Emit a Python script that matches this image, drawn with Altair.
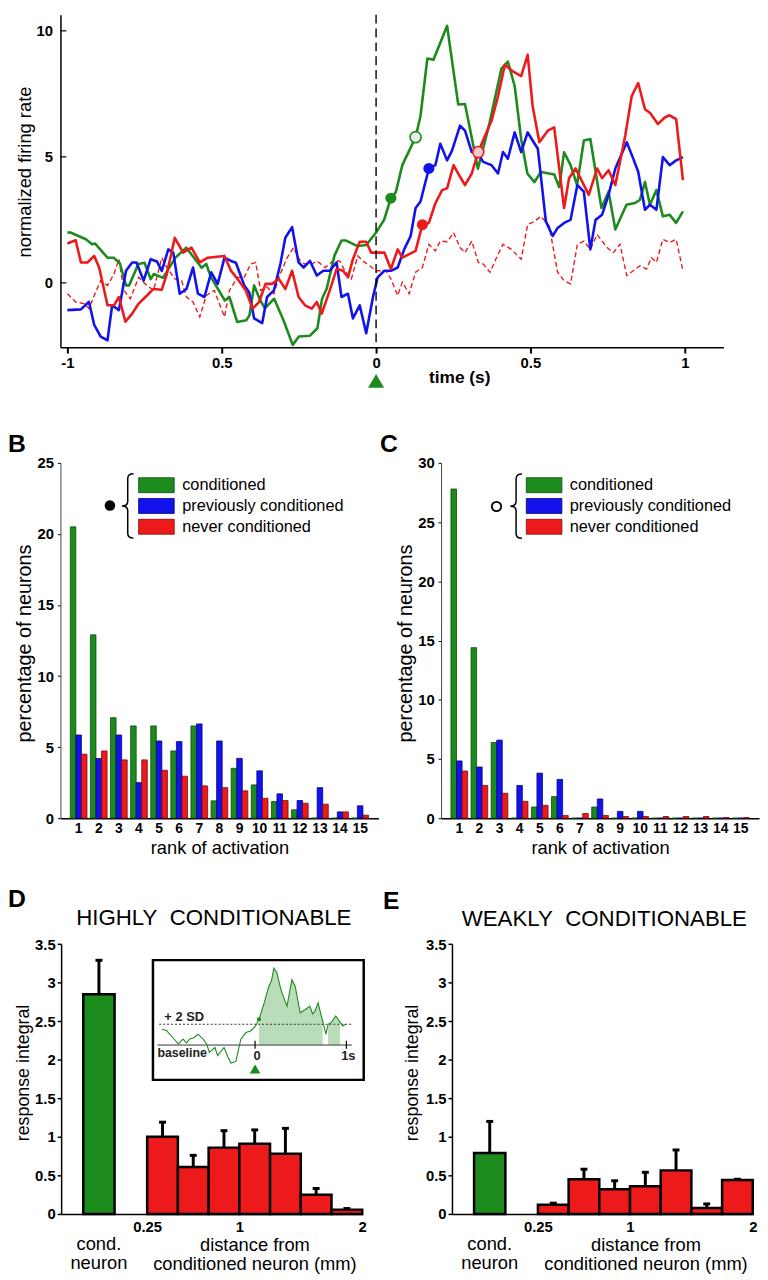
import json
import altair as alt
import pandas as pd

FONT = "Liberation Sans"
GREEN, BLUE, RED = "#1c8a1c", "#1212ec", "#ec1a1a"
GREEN_D, BLUE_D, RED_D = "#0c4f0c", "#06067c", "#7c0c0c"
W, H, M = 760, 1272, 8


def P(v):
    return v - M


# ---------------- data ----------------
series_names = ["conditioned", "previously conditioned", "never conditioned"]

green_trace = [(-1.0, 2.0), (-0.99, 2.0), (-0.94, 1.73), (-0.92, 1.53), (-0.91, 1.56), (-0.87, 1.0), (-0.85, 1.0),
               (-0.83, 0.78), (-0.81, -0.1), (-0.8, -0.1), (-0.77, 0.75), (-0.75, 0.8), (-0.73, 0.15), (-0.72, 0.35),
               (-0.69, 0.2), (-0.65, 1.0), (-0.615, 1.4), (-0.565, 0.6), (-0.55, 0.75), (-0.535, 0.23), (-0.49, -0.7),
               (-0.475, -0.56), (-0.45, -1.55), (-0.42, -1.48), (-0.41, -1.28), (-0.395, -0.1), (-0.375, -0.7),
               (-0.36, -1.0), (-0.33, -0.63), (-0.3, -1.48), (-0.27, -2.46), (-0.25, -2.13), (-0.215, -2.1),
               (-0.19, -1.8), (-0.175, -0.63), (-0.16, -0.23), (-0.135, 1.07), (-0.112, 1.68), (-0.097, 1.68),
               (-0.06, 1.46), (-0.032, 1.5), (0.0, 2.0), (0.026, 2.5), (0.048, 3.36), (0.064, 3.6), (0.085, 4.67),
               (0.128, 5.78), (0.144, 6.63), (0.166, 8.9), (0.186, 8.85), (0.23, 10.2), (0.266, 7.08), (0.288, 7.1),
               (0.33, 4.53), (0.368, 6.37), (0.406, 8.5), (0.427, 8.78), (0.449, 7.8), (0.47, 5.7), (0.49, 4.34),
               (0.513, 4.0), (0.534, 4.4), (0.577, 4.3), (0.593, 3.8), (0.609, 5.18), (0.63, 4.67), (0.651, 3.88),
               (0.673, 5.65), (0.694, 5.71), (0.73, 2.97), (0.753, 3.62), (0.775, 2.12), (0.811, 3.1), (0.839, 3.17),
               (0.855, 3.3), (0.871, 4.0), (0.887, 3.1), (0.908, 3.68), (0.929, 2.64), (0.951, 2.7), (0.972, 2.38),
               (0.994, 2.84)]

blue_trace = [(-1.0, -1.08), (-0.956, -1.05), (-0.93, -0.75), (-0.913, -1.67), (-0.892, -2.13), (-0.87, -2.28),
              (-0.855, -0.89), (-0.833, -1.08), (-0.81, 0.48), (-0.79, 0.81), (-0.776, 0.81), (-0.753, 0.09),
              (-0.73, 0.94), (-0.71, 0.85), (-0.694, 0.48), (-0.673, 1.33), (-0.657, 1.2), (-0.636, -0.43),
              (-0.614, -0.24), (-0.593, 0.61), (-0.577, -0.43), (-0.556, -0.56), (-0.534, 0.42), (-0.513, -0.04),
              (-0.491, 1.0), (-0.47, 0.87), (-0.454, 0.8), (-0.427, -0.1), (-0.411, -0.37), (-0.395, -1.41),
              (-0.369, -1.6), (-0.353, -0.56), (-0.331, -0.3), (-0.31, 0.75), (-0.294, 1.79), (-0.272, 2.21),
              (-0.251, 0.81), (-0.235, 0.61), (-0.214, 0.87), (-0.192, 0.29), (-0.171, 0.48), (-0.15, 0.48),
              (-0.128, 0.81), (-0.112, -0.56), (-0.091, -0.43), (-0.075, -1.41), (-0.053, -0.89), (-0.032, -2.0),
              (-0.01, -0.56), (0.005, 0.22), (0.027, 0.48), (0.048, 0.48), (0.07, 0.61), (0.091, 1.33),
              (0.112, 1.86), (0.128, 2.97), (0.144, 3.23), (0.171, 4.54), (0.192, 4.67), (0.208, 5.52), (0.23, 4.86),
              (0.246, 5.25), (0.272, 6.24), (0.288, 6.04), (0.31, 5.19), (0.331, 5.12), (0.347, 4.8), (0.374, 4.67),
              (0.395, 4.34), (0.411, 5.19), (0.427, 4.93), (0.449, 5.97), (0.47, 5.19), (0.491, 5.97), (0.507, 5.65),
              (0.524, 5.32), (0.55, 2.44), (0.572, 1.86), (0.588, 2.18), (0.609, 2.38), (0.63, 2.5), (0.652, 3.88),
              (0.673, 3.62), (0.694, 1.33), (0.711, 2.5), (0.732, 2.7), (0.753, 3.49), (0.775, 4.54), (0.812, 5.58),
              (0.833, 4.93), (0.849, 4.41), (0.871, 2.9), (0.887, 3.1), (0.908, 2.9), (0.929, 4.99), (0.951, 4.67),
              (0.972, 4.86), (0.994, 4.99)]

red_trace = [(-1.0, 1.56), (-0.973, 1.69), (-0.956, 0.81), (-0.935, 0.81), (-0.913, 1.07), (-0.897, 0.61),
             (-0.87, -0.89), (-0.849, -0.89), (-0.833, -0.56), (-0.812, -1.54), (-0.79, -1.22), (-0.769, -0.82),
             (-0.742, -0.5), (-0.721, -0.24), (-0.694, -0.27), (-0.678, 0.35), (-0.652, 1.79), (-0.625, 1.2),
             (-0.598, 1.4), (-0.571, 0.81), (-0.545, 1.0), (-0.491, 1.07), (-0.47, 0.48), (-0.449, 0.16),
             (-0.422, -0.3), (-0.4, -1.02), (-0.379, -0.76), (-0.358, -0.04), (-0.337, -0.04), (-0.315, 0.16),
             (-0.294, -0.24), (-0.272, 0.48), (-0.251, -0.56), (-0.23, -0.89), (-0.208, -1.02), (-0.192, -0.76),
             (-0.176, -1.22), (-0.15, -0.3), (-0.128, 0.55), (-0.107, 0.48), (-0.091, 0.22), (-0.075, 0.94),
             (-0.053, 1.63), (-0.032, 1.63), (-0.016, 1.2), (0.027, 1.2), (0.048, 0.55), (0.07, 1.33), (0.085, 1.0),
             (0.128, 1.27), (0.15, 2.31), (0.171, 2.38), (0.192, 3.16), (0.214, 3.68), (0.23, 3.75), (0.251, 4.67),
             (0.272, 4.21), (0.288, 3.88), (0.31, 4.34), (0.331, 5.19), (0.353, 5.84), (0.374, 6.43), (0.395, 7.41),
             (0.417, 8.65), (0.443, 8.39), (0.47, 8.2), (0.491, 9.05), (0.507, 7.02), (0.529, 5.58), (0.556, 6.04),
             (0.577, 6.17), (0.609, 2.97), (0.625, 4.15), (0.646, 4.54), (0.668, 4.01), (0.689, 3.49), (0.716, 4.54),
             (0.732, 4.15), (0.753, 4.47), (0.775, 3.88), (0.807, 5.84), (0.828, 7.41), (0.849, 7.93), (0.871, 6.89),
             (0.887, 6.75), (0.913, 6.3), (0.935, 6.56), (0.951, 6.65), (0.972, 6.5), (0.994, 4.08)]

red_ctrl_trace = [(-1.0, -0.43), (-0.973, -0.76), (-0.946, -0.82), (-0.93, -1.02), (-0.913, -0.5), (-0.892, 0.09),
                  (-0.87, -0.1), (-0.849, 0.35), (-0.833, 0.94), (-0.817, -0.3), (-0.796, -0.63), (-0.769, 0.22),
                  (-0.748, -0.04), (-0.721, -0.3), (-0.694, 1.0), (-0.678, 0.61), (-0.652, 0.16), (-0.63, 0.09),
                  (-0.614, -0.56), (-0.593, -0.76), (-0.571, -1.35), (-0.55, -0.5), (-0.524, -0.3), (-0.491, -1.35),
                  (-0.475, -0.3), (-0.449, 0.22), (-0.427, 0.22), (-0.406, 0.75), (-0.39, 0.81), (-0.374, -0.3),
                  (-0.353, -0.17), (-0.331, -0.43), (-0.315, 0.22), (-0.288, 1.0), (-0.267, 1.4), (-0.246, 0.87),
                  (-0.23, 0.75), (-0.208, 0.75), (-0.192, 0.87), (-0.165, 0.61), (-0.139, 0.87), (-0.118, 0.87),
                  (-0.101, 0.48), (-0.08, 0.16), (-0.059, 1.07), (-0.043, 0.87), (-0.021, 0.68), (0.0, 0.48),
                  (0.032, 0.48), (0.048, 0.16), (0.07, -0.5), (0.085, 0.03), (0.107, -0.43), (0.128, 0.42),
                  (0.15, 0.61), (0.171, 1.53), (0.192, 1.27), (0.208, 1.66), (0.23, 1.63), (0.251, 1.99), (0.272, 1.4),
                  (0.288, 1.2), (0.31, 1.66), (0.331, 0.81), (0.347, 0.75), (0.369, 0.42), (0.39, 1.0), (0.411, 1.53),
                  (0.438, 1.33), (0.47, 0.94), (0.491, 2.31), (0.513, 2.44), (0.534, 2.64), (0.561, 2.25),
                  (0.588, 0.42), (0.609, 0.09), (0.63, -0.04), (0.652, 1.53), (0.673, 1.66), (0.694, 1.33),
                  (0.716, 1.92), (0.748, 1.4), (0.769, 1.2), (0.79, 1.53), (0.812, 0.29), (0.833, 0.48), (0.855, 0.68),
                  (0.876, 0.55), (0.892, 1.0), (0.908, 0.81), (0.929, 1.73), (0.951, 1.6), (0.972, 1.73),
                  (0.994, 0.48)]

stim_time = [0.0]
marker_series = ["conditioned", "conditioned", "previously conditioned", "never conditioned", "never conditioned"]
marker_time = [0.048, 0.128, 0.171, 0.15, 0.331]
marker_value = [3.36, 5.78, 4.54, 2.31, 5.19]
marker_kind = ["onset", "half", "onset", "onset", "half"]

a_xtick_vals = [-1, -0.5, 0, 0.5, 1]
a_xtick_labels = ["-1", "0.5", "0", "0.5", "1"]
a_ytick_vals = [0, 5, 10]

ranks = list(range(1, 16))
B_cond = [20.5, 12.9, 7.07, 6.49, 6.49, 4.73, 6.49, 1.22, 3.51, 2.34, 1.17, 0.59, 0, 0, 0]
B_prev = [5.85, 4.2, 5.85, 2.5, 5.43, 5.39, 6.63, 5.43, 4.21, 3.33, 1.71, 1.24, 2.15, 0.44, 0.87]
B_never = [4.5, 4.73, 4.1, 4.1, 3.37, 2.95, 2.27, 2.15, 1.92, 1.4, 1.24, 1.05, 0.98, 0.44, 0.21]
C_cond = [27.8, 14.4, 6.39, 0, 0.94, 1.82, 0, 0.94, 0, 0, 0, 0, 0, 0, 0]
C_prev = [4.83, 4.32, 6.59, 2.76, 3.8, 3.27, 0, 1.62, 0.57, 0.57, 0, 0, 0, 0, 0]
C_never = [3.98, 2.76, 2.1, 1.42, 1.08, 0.23, 0.4, 0.23, 0.14, 0.14, 0.14, 0.14, 0.14, 0.05, 0.05]

dist_edges = [0.25, 0.5, 0.75, 1.0, 1.25, 1.5, 1.75, 2.0]
dist_tick_vals = [0.25, 1, 2]
dist_tick_labels = ["0.25", "1", "2"]
resp_tick_vals = [0, 0.5, 1, 1.5, 2, 2.5, 3, 3.5]
D_red_mean = [1.0, 0.61, 0.86, 0.91, 0.78, 0.25, 0.056]
D_red_sem = [0.19, 0.15, 0.22, 0.18, 0.33, 0.08, 0.014]
D_cond_mean = [2.85]
D_cond_sem = [0.44]
E_red_mean = [0.12, 0.45, 0.32, 0.36, 0.565, 0.077, 0.44]
E_red_sem = [0.02, 0.13, 0.11, 0.18, 0.265, 0.053, 0.01]
E_cond_mean = [0.79]
E_cond_sem = [0.41]
cond_label = ["cond.", "neuron"]

inset_trace = [(-1.02, 0.76), (-0.97, 0.7), (-0.95, 0.6), (-0.9, 0.35), (-0.84, 0.05), (-0.79, 0.29), (-0.75, 0.1),
               (-0.715, 0.29), (-0.67, 0.35), (-0.625, 0.52), (-0.57, 0.29), (-0.53, 0.05), (-0.5, -0.35),
               (-0.44, -0.12), (-0.41, -0.51), (-0.34, -0.12), (-0.3, -0.55), (-0.264, -0.87), (-0.21, -0.79),
               (-0.156, 0.28), (-0.1, 0.6), (-0.048, 0.68), (0.007, 0.92), (0.043, 1.24), (0.1, 2.03), (0.15, 2.82),
               (0.18, 3.1), (0.206, 3.7), (0.24, 3.47), (0.27, 2.9), (0.296, 2.5), (0.35, 1.87), (0.38, 2.6),
               (0.404, 3.14), (0.44, 2.82), (0.47, 2.1), (0.494, 1.55), (0.55, 1.71), (0.6, 1.87), (0.63, 1.5),
               (0.656, 1.63), (0.69, 2.03), (0.72, 1.5), (0.74, 1.16), (0.776, 0.52), (0.8, 1.0), (0.838, 1.1),
               (0.884, 1.4), (0.93, 1.1), (0.96, 0.92), (0.99, 1.0)]
inset_onset = [(0.043, 1.24)]
inset_threshold = 1.0
inset_tick_vals = [0, 1]
inset_tick_labels = ["0", "1s"]

RECT_PATH = "M-1,-0.42H1V0.42H-1Z"
BRACE_PATH = ("M0.18,-1 C0.04,-1 0,-0.95 0,-0.85 L0,-0.15 C0,-0.05 -0.06,0 -0.18,0 "
              "C-0.06,0 0,0.05 0,0.15 L0,0.85 C0,0.95 0.04,1 0.18,1")

layers = []


def lookup_expr(vals, labels):
    return f"{json.dumps(labels)}[indexof({json.dumps(vals)}, datum.value)]"


def note(text, x, y, **kw):
    base = dict(font=FONT, color="black")
    base.update(kw)
    return alt.Chart(pd.DataFrame({"t": [text]})).mark_text(**base).encode(
        text="t:N", x=alt.value(P(x)), y=alt.value(P(y)))


def trace_df(pts, name):
    return pd.DataFrame({"t": [p[0] for p in pts], "v": [p[1] for p in pts], "series": name})


def ax(field, scale):
    return alt.X(field, scale=scale, axis=None)


def ay(field, scale):
    return alt.Y(field, scale=scale, axis=None)


# ---------------- panel A ----------------
a_x = alt.Scale(domain=[-1.0224, 1.125], range=[P(61), P(731)], nice=False, zero=False)
a_y = alt.Scale(domain=[-2.55, 10.64], range=[P(344), P(8)], nice=False, zero=False)
a_color = alt.Scale(domain=series_names, range=[GREEN, BLUE, RED])

a_xaxis = alt.Axis(orient="bottom", offset=P(344) - H, values=a_xtick_vals,
                   labelExpr=lookup_expr(a_xtick_vals, a_xtick_labels),
                   tickSize=6, tickWidth=2, domainColor="black", domainWidth=1.5, labelFontSize=15,
                   labelFontWeight="bold", labelPadding=3, labelFlush=False, title="time (s)", titleFontSize=17.5,
                   titleFontWeight="bold", titleX=P(464), titleY=31, titleBaseline="middle", titleAlign="center")
a_yaxis = alt.Axis(orient="left", offset=-P(61), values=a_ytick_vals, tickSize=0, domainColor="black",
                   domainWidth=1.5, labelFontSize=15, labelFontWeight="bold", labelPadding=8, labelFlush=False,
                   title="normalized firing rate", titleFontSize=18.5, titleFontWeight="normal", titleAngle=270,
                   titleX=-36, titleY=P(166.5), titleBaseline="middle", titleAlign="center")

A_lines = pd.concat([trace_df(green_trace, series_names[0]), trace_df(blue_trace, series_names[1]),
                     trace_df(red_trace, series_names[2])], ignore_index=True)
A_ctrl = trace_df(red_ctrl_trace, "never conditioned (control)")
stim_df = pd.DataFrame({"t": stim_time})
markers = pd.DataFrame({"series": marker_series, "t": marker_time, "v": marker_value, "kind": marker_kind})

layers.append(alt.Chart(A_ctrl).mark_line(color=RED, strokeWidth=1.4, strokeDash=[5, 3], opacity=1).encode(
    x=ax("t:Q", a_x), y=ay("v:Q", a_y)))
layers.append(alt.Chart(A_lines).mark_line(strokeWidth=2.6, opacity=1, strokeJoin="round").encode(
    x=alt.X("t:Q", scale=a_x, axis=a_xaxis), y=alt.Y("v:Q", scale=a_y, axis=a_yaxis),
    color=alt.Color("series:N", scale=a_color, legend=None)))
layers.append(alt.Chart(stim_df).mark_rule(color="black", strokeWidth=1.4, strokeDash=[9, 5]).encode(
    x=ax("t:Q", a_x), y=alt.value(0), y2=alt.value(P(344))))
layers.append(alt.Chart(pd.DataFrame({"v": a_ytick_vals})).mark_rule(color="black", strokeWidth=1.2).encode(
    y=ay("v:Q", a_y), x=alt.value(P(61)), x2=alt.value(P(67))))
layers.append(alt.Chart(markers).transform_filter(alt.datum.kind == "onset").mark_point(
    shape="circle", filled=True, size=125, opacity=1).encode(
    x=ax("t:Q", a_x), y=ay("v:Q", a_y), color=alt.Color("series:N", scale=a_color, legend=None)))
layers.append(alt.Chart(markers).transform_filter(
    (alt.datum.kind == "half") & (alt.datum.series == series_names[0])).mark_point(
    shape="circle", filled=True, size=125, opacity=1, fill="#ececec", stroke=GREEN, strokeWidth=1.6).encode(
    x=ax("t:Q", a_x), y=ay("v:Q", a_y)))
layers.append(alt.Chart(markers).transform_filter(
    (alt.datum.kind == "half") & (alt.datum.series == series_names[2])).mark_point(
    shape="circle", filled=True, size=125, opacity=1, fill="#f0cccc", stroke=RED, strokeWidth=1.6).encode(
    x=ax("t:Q", a_x), y=ay("v:Q", a_y)))
layers.append(alt.Chart(stim_df).mark_point(shape="triangle-up", filled=True, size=260, opacity=1,
                                            color=GREEN).encode(x=ax("t:Q", a_x), y=alt.value(P(378))))


# ---------------- panels B and C ----------------
def bar_df(cond, prev, never):
    rows = []
    for name, vals in zip(series_names, [cond, prev, never]):
        for r, v in zip(ranks, vals):
            rows.append({"rank": r, "series": name, "pct": v})
    return pd.DataFrame(rows)


def hist_panel(df, x0, x1, ymax, yticks):
    xs = alt.Scale(domain=ranks, range=[P(x0), P(x1)], paddingInner=0.17, paddingOuter=0.49)
    ys = alt.Scale(domain=[0, ymax], range=[P(820), P(461)], nice=False, zero=True)
    return alt.Chart(df).mark_bar(strokeWidth=0.8, opacity=1).encode(
        x=alt.X("rank:O", scale=xs, axis=alt.Axis(
            orient="bottom", offset=P(820) - H, labelAngle=0, tickSize=0, domainColor="black", domainWidth=1.5,
            labelFontSize=14, labelFontWeight="bold", labelPadding=4, title="rank of activation",
            titleFontSize=18.5, titleFontWeight="normal", titleY=30, titleBaseline="middle")),
        xOffset=alt.XOffset("series:N", sort=series_names,
                            scale=alt.Scale(domain=series_names, paddingInner=0, paddingOuter=0)),
        y=alt.Y("pct:Q", scale=ys, axis=alt.Axis(
            orient="left", offset=-P(x0), values=yticks, tickSize=3, domainColor="#444", domainWidth=1,
            labelFontSize=15, labelFontWeight="bold", labelPadding=4, labelFlush=False,
            title="percentage of neurons", titleFontSize=20, titleFontWeight="normal", titleAngle=270,
            titleX=-36, titleY=P(643), titleBaseline="middle", titleAlign="center")),
        color=alt.Color("series:N", scale=alt.Scale(domain=series_names, range=[GREEN, BLUE, RED]), legend=None),
        stroke=alt.Stroke("series:N", scale=alt.Scale(domain=series_names, range=[GREEN_D, BLUE_D, RED_D]),
                          legend=None),
    )


def legend_layers(sym_x, text_x):
    ld = pd.DataFrame({"series": series_names})
    ly = alt.Scale(type="point", domain=series_names, range=[P(483.5), P(525.5)], padding=0)
    sym = alt.Chart(ld).mark_point(shape=RECT_PATH, filled=True, size=1296, strokeWidth=0.8, opacity=1).encode(
        x=alt.value(P(sym_x)), y=alt.Y("series:N", scale=ly, axis=None),
        color=alt.Color("series:N", scale=alt.Scale(domain=series_names, range=[GREEN, BLUE, RED]), legend=None),
        stroke=alt.Stroke("series:N", scale=alt.Scale(domain=series_names, range=[GREEN_D, BLUE_D, RED_D]),
                          legend=None))
    txt = alt.Chart(ld).mark_text(align="left", baseline="middle", font=FONT, fontSize=16.5, color="black").encode(
        x=alt.value(P(text_x)), y=alt.Y("series:N", scale=ly, axis=None), text="series:N")
    return [sym, txt]


def brace(x, y):
    return alt.Chart(pd.DataFrame({"k": [0]})).mark_point(
        shape=BRACE_PATH, size=4225, filled=False, stroke="black", strokeWidth=1.5, opacity=1).encode(
        x=alt.value(P(x)), y=alt.value(P(y)))


layers.append(hist_panel(bar_df(B_cond, B_prev, B_never), 61, 382.3, 25, [0, 5, 10, 15, 20, 25]))
layers += legend_layers(158, 184)
layers.append(brace(129, 504.5))
layers.append(alt.Chart(pd.DataFrame({"k": ["onset"]})).mark_point(
    shape="circle", filled=True, color="black", size=113, opacity=1).encode(x=alt.value(P(111)), y=alt.value(P(504))))
layers.append(hist_panel(bar_df(C_cond, C_prev, C_never), 445.7, 767, 30, [0, 5, 10, 15, 20, 25, 30]))
layers += legend_layers(549.8, 575.7)
layers.append(brace(521.5, 504.7))
layers.append(alt.Chart(pd.DataFrame({"k": ["half"]})).mark_point(
    shape="circle", filled=False, color="black", strokeWidth=1.8, size=90, opacity=1).encode(
    x=alt.value(P(501.7)), y=alt.value(P(505))))


# ---------------- panels D and E ----------------
def resp_layers(x0, x1, red_mean, red_sem, cond_mean, cond_sem, ytitle_x, xtitle_x):
    xs = alt.Scale(domain=[-0.45, 2.0], range=[P(x0), P(x1)], nice=False, zero=False)
    ys = alt.Scale(domain=[0, 3.5], range=[P(1220), P(947.3)], nice=False, zero=True)
    red = pd.DataFrame({"lo": dist_edges[:-1], "hi": dist_edges[1:], "mean": red_mean, "sem": red_sem})
    red["mid"] = (red["lo"] + red["hi"]) / 2
    red["top"] = red["mean"] + red["sem"]
    red["zero"] = 0.0
    cond = pd.DataFrame({"label": ["\n".join(cond_label)], "mean": cond_mean, "sem": cond_sem})
    cond["top"] = cond["mean"] + cond["sem"]
    cond["zero"] = 0.0
    xaxis = alt.Axis(orient="bottom", offset=P(1220) - H, values=dist_tick_vals,
                     labelExpr=lookup_expr(dist_tick_vals, dist_tick_labels), tickSize=0,
                     domainColor="black", domainWidth=1.5, labelFontSize=15, labelFontWeight="bold",
                     labelPadding=6, labelFlush=False, title=["distance from", "conditioned neuron (mm)"],
                     titleFontSize=18.5, titleFontWeight="normal", titleX=P(xtitle_x), titleY=21.5,
                     titleBaseline="top", titleAlign="center", titleLineHeight=19.5)
    yaxis = alt.Axis(orient="left", offset=-P(x0), values=resp_tick_vals, format="~g",
                     tickSize=4, tickWidth=1.5, domainColor="black", domainWidth=1.5, labelFontSize=15,
                     labelFontWeight="bold", labelPadding=2, labelFlush=False, title="response integral",
                     titleFontSize=18, titleFontWeight="normal", titleAngle=270, titleX=ytitle_x,
                     titleY=P(1077), titleBaseline="middle", titleAlign="center")
    out = []
    out.append(alt.Chart(red).mark_rect(fill=RED, stroke="black", strokeWidth=2.5, opacity=1).encode(
        x=alt.X("lo:Q", scale=xs, axis=xaxis), x2="hi:Q",
        y=alt.Y("mean:Q", scale=ys, axis=yaxis), y2="zero:Q"))
    out.append(alt.Chart(red).mark_rule(color="black", strokeWidth=3).encode(
        x=ax("mid:Q", xs), y=ay("mean:Q", ys), y2="top:Q"))
    out.append(alt.Chart(red).mark_tick(orient="horizontal", color="black", size=7, thickness=3, opacity=1).encode(
        x=ax("mid:Q", xs), y=ay("top:Q", ys)))
    out.append(alt.Chart(cond).mark_rect(fill=GREEN, stroke="black", strokeWidth=2.5, opacity=1).encode(
        x=alt.XDatum(-0.27, scale=xs, axis=None), x2=alt.X2Datum(-0.015),
        y=ay("mean:Q", ys), y2="zero:Q"))
    out.append(alt.Chart(cond).mark_rule(color="black", strokeWidth=3).encode(
        x=alt.XDatum(-0.1425, scale=xs, axis=None), y=ay("mean:Q", ys), y2="top:Q"))
    out.append(alt.Chart(cond).mark_tick(orient="horizontal", color="black", size=7, thickness=3, opacity=1).encode(
        x=alt.XDatum(-0.1425, scale=xs, axis=None), y=ay("top:Q", ys)))
    out.append(alt.Chart(cond).mark_text(font=FONT, fontSize=18.5, color="black", align="center", baseline="top",
                                         lineBreak="\n", lineHeight=19.5).encode(
        x=alt.XDatum(-0.1425, scale=xs, axis=None), y=alt.value(P(1241.5)), text="label:N"))
    return out


layers += resp_layers(61.7, 366, D_red_mean, D_red_sem, D_cond_mean, D_cond_sem, -37.7, 257)
layers += resp_layers(456.7, 760.7, E_red_mean, E_red_sem, E_cond_mean, E_cond_sem, -39.7, 652.3)

# ---------------- inset ----------------
in_x = alt.Scale(domain=[-1.1, 1.1], range=[P(156.2), P(359.2)], nice=False, zero=False)
in_y = alt.Scale(domain=[-1, 4], range=[P(1070.3), P(965.3)], nice=False, zero=False)
in_df = trace_df(inset_trace, "conditioned")
above = in_df["v"] >= inset_threshold
in_df["seg"] = (above != above.shift()).cumsum()
in_df["zero"] = 0.0
area_df = in_df[above]
onset_df = pd.DataFrame({"t": [p[0] for p in inset_onset], "v": [p[1] for p in inset_onset]})
ticks_df = pd.DataFrame({"t": inset_tick_vals, "label": inset_tick_labels})
guides_df = pd.DataFrame({"name": ["baseline", "+ 2 SD"], "lo": [-1.07, -1.05], "hi": [1.06, 1.06],
                          "level": [0.0, inset_threshold]})

layers.append(alt.Chart(pd.DataFrame({"k": [0]})).mark_rect(fill="white", stroke="black", strokeWidth=2.5,
                                                             opacity=1).encode(
    x=alt.value(P(154.5)), x2=alt.value(P(367.5)), y=alt.value(P(963.5)), y2=alt.value(P(1084.5))))
layers.append(alt.Chart(area_df).mark_area(color="#b9ddb9", opacity=1).encode(
    x=ax("t:Q", in_x), y=ay("v:Q", in_y), y2="zero:Q", detail="seg:N"))
layers.append(alt.Chart(guides_df).transform_filter(alt.datum.name == "baseline").mark_rule(
    color="#333333", strokeWidth=1).encode(x=ax("lo:Q", in_x), x2="hi:Q", y=ay("level:Q", in_y)))
layers.append(alt.Chart(guides_df).transform_filter(alt.datum.name == "+ 2 SD").mark_rule(
    color="#333333", strokeWidth=1, strokeDash=[2, 2]).encode(x=ax("lo:Q", in_x), x2="hi:Q", y=ay("level:Q", in_y)))
layers.append(alt.Chart(in_df).mark_line(color=GREEN, strokeWidth=1.1, opacity=1).encode(
    x=ax("t:Q", in_x), y=ay("v:Q", in_y)))
layers.append(alt.Chart(ticks_df).mark_rule(color="black", strokeWidth=1.2).encode(
    x=ax("t:Q", in_x), y=alt.value(P(1045)), y2=alt.value(P(1053))))
layers.append(alt.Chart(ticks_df).mark_text(font=FONT, fontSize=13, fontWeight="bold", color="#222",
                                            baseline="middle", align="center", dx=2).encode(
    x=ax("t:Q", in_x), y=alt.value(P(1060)), text="label:N"))
layers.append(alt.Chart(onset_df).mark_point(shape="circle", filled=True, size=18, color=GREEN, opacity=1).encode(
    x=ax("t:Q", in_x), y=ay("v:Q", in_y)))
layers.append(alt.Chart(stim_df).mark_point(shape="triangle-up", filled=True, size=115, opacity=1,
                                            color=GREEN).encode(x=ax("t:Q", in_x), y=alt.value(P(1073.5))))
layers.append(note("baseline", 159, 1057, fontSize=12.5, fontWeight="bold", align="left", baseline="middle",
                   color="#222"))
layers.append(note("+ 2 SD", 166, 1021.5, fontSize=13, fontWeight="bold", align="left", baseline="middle",
                   color="#222"))

# ---------------- titles and panel letters ----------------
layers.append(note("HIGHLY\u00a0 CONDITIONABLE", 216, 921, fontSize=22.5, align="center", baseline="middle"))
layers.append(note("WEAKLY\u00a0 CONDITIONABLE", 610.7, 921.5, fontSize=22.5, align="center", baseline="middle"))
layers.append(note("B", 8, 450, fontSize=25, fontWeight="bold", align="left", baseline="alphabetic"))
layers.append(note("C", 384, 450, fontSize=25, fontWeight="bold", align="left", baseline="alphabetic"))
layers.append(note("D", 8, 910, fontSize=25, fontWeight="bold", align="left", baseline="alphabetic"))
layers.append(note("E", 387, 912, fontSize=25, fontWeight="bold", align="left", baseline="alphabetic"))

chart = alt.layer(*layers).resolve_scale(
    x="independent", y="independent", color="independent", stroke="independent", xOffset="independent"
).properties(
    width=W, height=H, padding=0, autosize=alt.AutoSizeParams(type="none")
).configure_view(stroke=None).configure_axis(
    grid=False, labelFont=FONT, titleFont=FONT, labelColor="black", titleColor="black", tickColor="black"
)

chart.save("out.html", embed_options={"renderer": "svg", "actions": False})
